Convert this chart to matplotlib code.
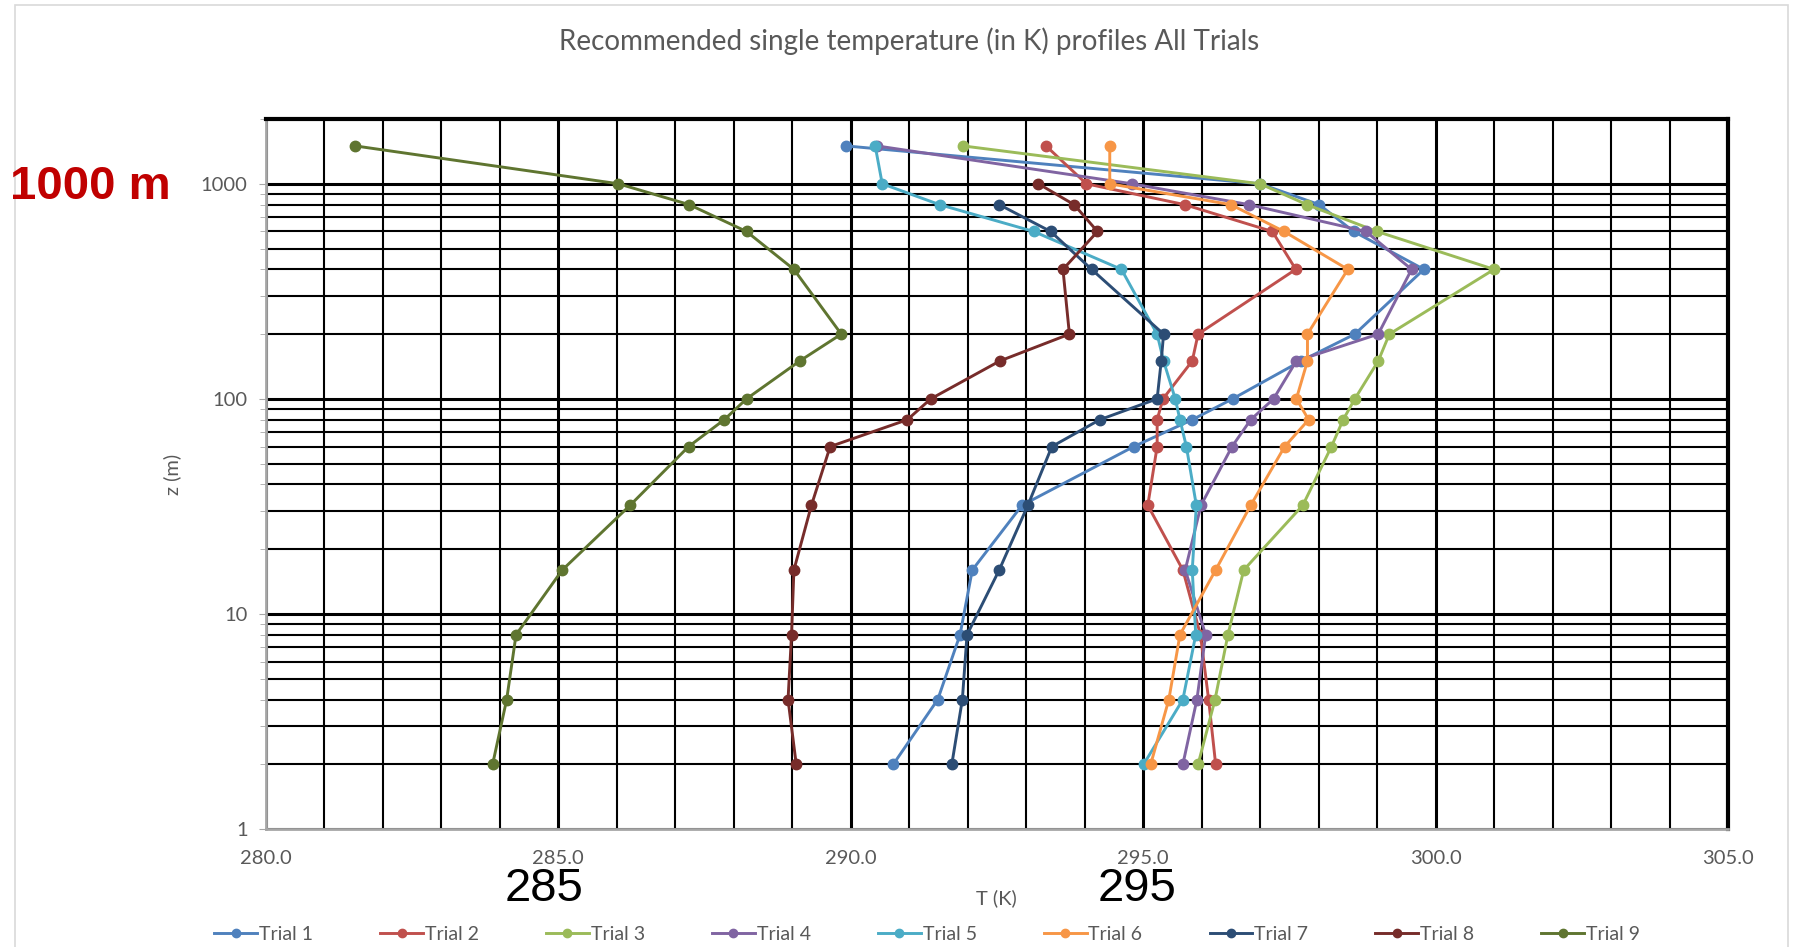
import matplotlib.pyplot as plt
import numpy as np
from matplotlib.ticker import MultipleLocator, LogLocator, FuncFormatter, NullFormatter
from matplotlib.patches import Rectangle

# heights (m) at which the profiles are given
heights = [1500, 1000, 800, 600, 400, 200, 150, 100, 80, 60, 32, 16, 8, 4, 2]
heights_t7 = heights[2:]
heights_t8 = heights[1:]

# temperatures (K)
trial1 = [289.92, 297.0, 298.01, 298.6, 299.8, 298.62, 297.7, 296.53, 295.84, 294.84, 292.93, 292.08, 291.87, 291.49, 290.73]
trial2 = [293.34, 294.03, 295.71, 297.21, 297.61, 295.94, 295.84, 295.34, 295.24, 295.24, 295.08, 295.68, 295.98, 296.12, 296.24]
trial3 = [291.92, 297.0, 297.8, 299.0, 301.0, 299.21, 299.02, 298.62, 298.42, 298.22, 297.73, 296.72, 296.45, 296.23, 295.94]
trial4 = [290.45, 294.81, 296.81, 298.81, 299.59, 299.02, 297.62, 297.23, 296.84, 296.52, 295.99, 295.72, 296.07, 295.92, 295.68]
trial5 = [290.42, 290.54, 291.52, 293.13, 294.63, 295.24, 295.35, 295.55, 295.63, 295.74, 295.91, 295.84, 295.9, 295.68, 295.01]
trial6 = [294.43, 294.43, 296.5, 297.41, 298.5, 297.81, 297.81, 297.62, 297.83, 297.42, 296.84, 296.24, 295.63, 295.44, 295.13]
trial7 = [292.54, 293.42, 294.12, 295.35, 295.31, 295.24, 294.26, 293.44, 293.03, 292.54, 291.99, 291.91, 291.73]
trial8 = [293.21, 293.82, 294.22, 293.63, 293.74, 292.55, 291.37, 290.97, 289.65, 289.33, 289.03, 288.99, 288.93, 289.07]
trial9 = [281.53, 286.03, 287.24, 288.22, 289.03, 289.84, 289.13, 288.22, 287.84, 287.23, 286.23, 285.07, 284.28, 284.12, 283.88]

names = ["Trial %d" % i for i in range(1, 10)]
colors = ["#4F81BD", "#C0504D", "#9BBB59", "#8064A2", "#4BACC6",
          "#F79646", "#2C4D75", "#772C2A", "#5F7530"]

series = [(trial1, heights), (trial2, heights), (trial3, heights), (trial4, heights),
          (trial5, heights), (trial6, heights), (trial7, heights_t7),
          (trial8, heights_t8), (trial9, heights)]

grey = "#595959"
plt.rcParams['font.family'] = ['Lato', 'DejaVu Sans']

fig = plt.figure(figsize=(18.11, 9.47), dpi=100)
# chart area border
fig.patches.append(Rectangle((15 / 1811, -0.05), 1773 / 1811, 1.045, transform=fig.transFigure,
                             fill=False, edgecolor="#D9D9D9", linewidth=1.2))

ax = fig.add_axes([0.1467, 0.1246, 0.8075, 0.7497])

for (temps, zs), name, c in zip(series, names, colors):
    ax.plot(temps, zs, color=c, lw=2.1, marker="o", ms=7.5, label=name, zorder=3)

ax.set_yscale("log")
ax.set_ylim(1, 2000)
ax.set_xlim(280, 305)

ax.xaxis.set_major_locator(MultipleLocator(5))
ax.xaxis.set_minor_locator(MultipleLocator(1))
ax.xaxis.set_major_formatter(FuncFormatter(lambda v, p: "%.1f" % v))
ax.yaxis.set_major_locator(LogLocator(base=10))
ax.yaxis.set_minor_locator(LogLocator(base=10, subs=np.arange(2, 10)))
ax.yaxis.set_major_formatter(FuncFormatter(lambda v, p: "%d" % v))
ax.yaxis.set_minor_formatter(NullFormatter())

ax.grid(True, which="major", color="black", lw=2.2, zorder=1)
ax.grid(True, which="minor", color="black", lw=1.5, zorder=1)
ax.set_axisbelow(True)

ax.tick_params(axis="both", which="both", colors="#A6A6A6", labelcolor=grey, labelsize=14.5)
ax.tick_params(axis="x", which="both", length=0, pad=15)
ax.tick_params(axis="y", which="major", length=5, pad=8)
ax.tick_params(axis="y", which="minor", length=4)

for s in ["left", "bottom"]:
    ax.spines[s].set_color("#A6A6A6")
    ax.spines[s].set_linewidth(2)
for s in ["top", "right"]:
    ax.spines[s].set_color("black")
    ax.spines[s].set_linewidth(3)

ax.set_xlabel("T (K)", color=grey, fontsize=14.5, labelpad=16)
ax.set_ylabel("z (m)", color=grey, fontsize=14.5, labelpad=14)

fig.text(0.502, 0.957, "Recommended single temperature (in K) profiles All Trials",
         ha="center", va="center", color=grey, fontsize=20)

# annotations added on top of the original chart
fig.text(0.0055, 1 - 187 / 947, "1000 m", color="#C00000", fontsize=34,
         fontweight="bold", family="Liberation Sans", va="center", ha="left")
fig.text(544 / 1811, 1 - 889 / 947, "285", color="black", fontsize=34,
         family="Liberation Sans", va="center", ha="center")
fig.text(1137 / 1811, 1 - 889 / 947, "295", color="black", fontsize=34,
         family="Liberation Sans", va="center", ha="center")

leg = fig.legend(loc="center", bbox_to_anchor=(0.512, 1 - 934 / 947), ncol=9, frameon=False,
                 fontsize=14, handlelength=2.2, handletextpad=0.1, columnspacing=3.45,
                 markerscale=0.8)
for t in leg.get_texts():
    t.set_color(grey)

fig.savefig("out.png", dpi=100)
